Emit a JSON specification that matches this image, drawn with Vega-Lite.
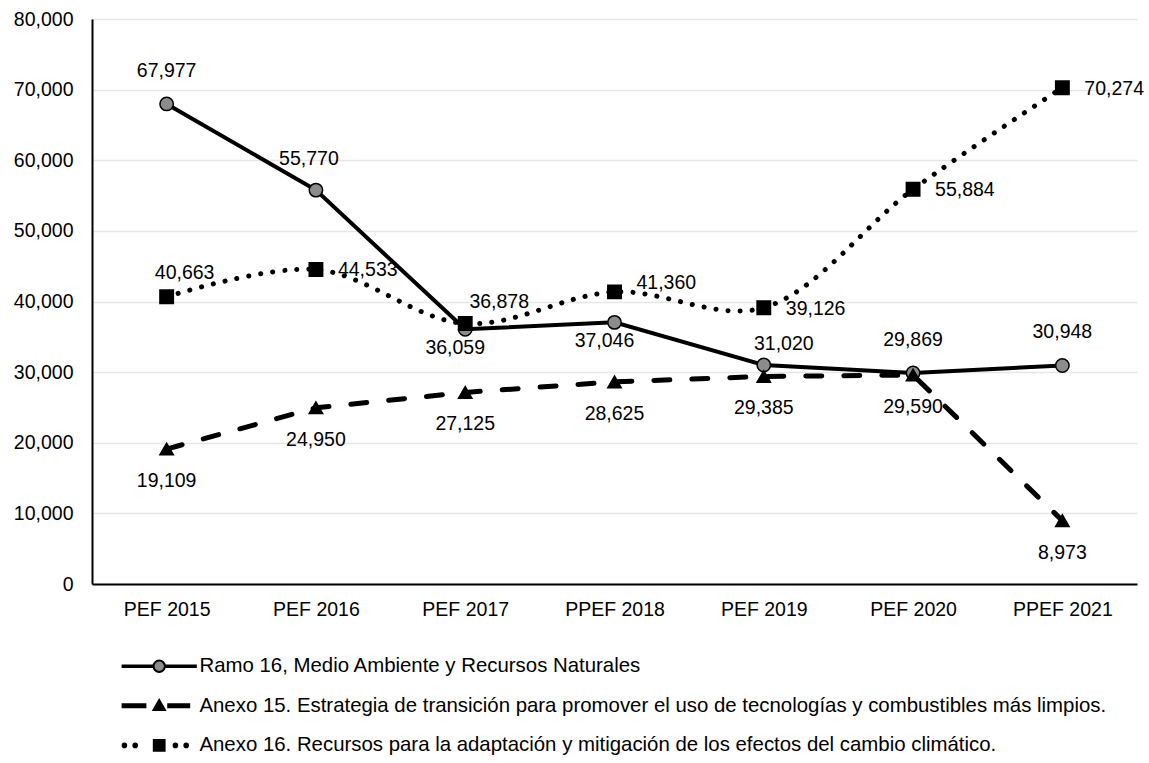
{
  "$schema": "https://vega.github.io/schema/vega-lite/v6.json",
  "width": 1045,
  "height": 565,
  "autosize": {"type": "none"},
  "padding": {"left": 92, "top": 19, "right": 12, "bottom": 179},
  "background": "white",
  "config": {
    "font": "Liberation Sans",
    "view": {"stroke": null},
    "axis": {"labelFont": "Liberation Sans", "labelColor": "#000", "labelFontSize": 19.5, "title": null, "ticks": false, "domainColor": "#000", "domainWidth": 2},
    "legend": {"orient": "none", "legendX": 57, "legendY": 637, "title": null, "direction": "vertical",
      "symbolSize": 144, "labelFontSize": 20.4, "labelFont": "Liberation Sans", "labelColor": "#000",
      "labelOffset": 30, "labelLimit": 2000, "rowPadding": 18.6, "padding": 0, "symbolStrokeWidth": 2, "symbolOpacity": 1}
  },
  "data": {
    "values": [
      {"year": "PEF 2015", "series": "Ramo 16, Medio Ambiente y Recursos Naturales", "value": 67977},
      {"year": "PEF 2016", "series": "Ramo 16, Medio Ambiente y Recursos Naturales", "value": 55770},
      {"year": "PEF 2017", "series": "Ramo 16, Medio Ambiente y Recursos Naturales", "value": 36059},
      {"year": "PPEF 2018", "series": "Ramo 16, Medio Ambiente y Recursos Naturales", "value": 37046},
      {"year": "PEF 2019", "series": "Ramo 16, Medio Ambiente y Recursos Naturales", "value": 31020},
      {"year": "PEF 2020", "series": "Ramo 16, Medio Ambiente y Recursos Naturales", "value": 29869},
      {"year": "PPEF 2021", "series": "Ramo 16, Medio Ambiente y Recursos Naturales", "value": 30948},
      {"year": "PEF 2015", "series": "Anexo 15. Estrategia de transición para promover el uso de tecnologías y combustibles más limpios.", "value": 19109},
      {"year": "PEF 2016", "series": "Anexo 15. Estrategia de transición para promover el uso de tecnologías y combustibles más limpios.", "value": 24950},
      {"year": "PEF 2017", "series": "Anexo 15. Estrategia de transición para promover el uso de tecnologías y combustibles más limpios.", "value": 27125},
      {"year": "PPEF 2018", "series": "Anexo 15. Estrategia de transición para promover el uso de tecnologías y combustibles más limpios.", "value": 28625},
      {"year": "PEF 2019", "series": "Anexo 15. Estrategia de transición para promover el uso de tecnologías y combustibles más limpios.", "value": 29385},
      {"year": "PEF 2020", "series": "Anexo 15. Estrategia de transición para promover el uso de tecnologías y combustibles más limpios.", "value": 29590},
      {"year": "PPEF 2021", "series": "Anexo 15. Estrategia de transición para promover el uso de tecnologías y combustibles más limpios.", "value": 8973},
      {"year": "PEF 2015", "series": "Anexo 16. Recursos para la adaptación y mitigación de los efectos del cambio climático.", "value": 40663},
      {"year": "PEF 2016", "series": "Anexo 16. Recursos para la adaptación y mitigación de los efectos del cambio climático.", "value": 44533},
      {"year": "PEF 2017", "series": "Anexo 16. Recursos para la adaptación y mitigación de los efectos del cambio climático.", "value": 36878},
      {"year": "PPEF 2018", "series": "Anexo 16. Recursos para la adaptación y mitigación de los efectos del cambio climático.", "value": 41360},
      {"year": "PEF 2019", "series": "Anexo 16. Recursos para la adaptación y mitigación de los efectos del cambio climático.", "value": 39126},
      {"year": "PEF 2020", "series": "Anexo 16. Recursos para la adaptación y mitigación de los efectos del cambio climático.", "value": 55884},
      {"year": "PPEF 2021", "series": "Anexo 16. Recursos para la adaptación y mitigación de los efectos del cambio climático.", "value": 70274}
    ]
  },
  "encoding": {
    "x": {"field": "year", "type": "nominal", "sort": null, "scale": {"type": "point", "padding": 0.5},
      "axis": {"labelAngle": 0, "labelPadding": 16, "grid": false}},
    "y": {"field": "value", "type": "quantitative", "scale": {"domain": [0, 80000], "nice": false},
      "axis": {"values": [0, 10000, 20000, 30000, 40000, 50000, 60000, 70000, 80000], "format": ",d", "labelPadding": 19, "grid": true, "gridColor": "#e6e6e6", "gridWidth": 1.5}}
  },
  "layer": [
    {"transform": [{"filter": "test(/^Anexo 15/, datum.series)"}],
     "mark": {"type": "line", "color": "#000", "strokeWidth": 5, "strokeDash": [16, 22], "strokeCap": "round"}},
    {"transform": [{"filter": "test(/^Anexo 16/, datum.series)"}],
     "mark": {"type": "line", "color": "#000", "strokeWidth": 5, "strokeDash": [0.1, 12], "strokeCap": "round", "interpolate": "catmull-rom"}},
    {"transform": [{"filter": "test(/^Ramo/, datum.series)"}],
     "mark": {"type": "line", "color": "#000", "strokeWidth": 4, "strokeCap": "round"}},
    {"mark": {"type": "point", "filled": true, "size": 180, "stroke": "#000", "strokeWidth": 1.5, "opacity": 1},
     "encoding": {
       "shape": {"field": "series", "type": "nominal",
         "scale": {"domain": ["Ramo 16, Medio Ambiente y Recursos Naturales", "Anexo 15. Estrategia de transición para promover el uso de tecnologías y combustibles más limpios.", "Anexo 16. Recursos para la adaptación y mitigación de los efectos del cambio climático."], "range": ["circle", "triangle-up", "square"]}, "legend": null},
       "fill": {"field": "series", "type": "nominal",
         "scale": {"domain": ["Ramo 16, Medio Ambiente y Recursos Naturales", "Anexo 15. Estrategia de transición para promover el uso de tecnologías y combustibles más limpios.", "Anexo 16. Recursos para la adaptación y mitigación de los efectos del cambio climático."], "range": ["#8c8c8c", "#000", "#000"]}, "legend": null}
     }},
    {"transform": [{"filter": "test(/^Ramo/, datum.series) && (datum.year == 'PEF 2015' || datum.year == 'PEF 2020' || datum.year == 'PPEF 2021')"}],
     "mark": {"type": "text", "fontSize": 19.5, "color": "#000", "dy": -33},
     "encoding": {"text": {"field": "value", "type": "quantitative", "format": ",d"}}},
    {"transform": [{"filter": "test(/^Ramo/, datum.series) && datum.year == 'PEF 2016'"}],
     "mark": {"type": "text", "fontSize": 19.5, "color": "#000", "dy": -31, "dx": -7},
     "encoding": {"text": {"field": "value", "type": "quantitative", "format": ",d"}}},
    {"transform": [{"filter": "test(/^Ramo/, datum.series) && datum.year == 'PEF 2019'"}],
     "mark": {"type": "text", "fontSize": 19.5, "color": "#000", "dy": -21, "dx": 20},
     "encoding": {"text": {"field": "value", "type": "quantitative", "format": ",d"}}},
    {"transform": [{"filter": "test(/^Ramo/, datum.series) && (datum.year == 'PEF 2017' || datum.year == 'PPEF 2018')"}],
     "mark": {"type": "text", "fontSize": 19.5, "color": "#000", "dy": 19, "dx": -10},
     "encoding": {"text": {"field": "value", "type": "quantitative", "format": ",d"}}},
    {"transform": [{"filter": "test(/^Anexo 15/, datum.series)"}],
     "mark": {"type": "text", "fontSize": 19.5, "color": "#000", "dy": 32},
     "encoding": {"text": {"field": "value", "type": "quantitative", "format": ",d"}}},
    {"transform": [{"filter": "test(/^Anexo 16/, datum.series) && (datum.year == 'PEF 2016' || datum.year == 'PEF 2019' || datum.year == 'PEF 2020' || datum.year == 'PPEF 2021')"}],
     "mark": {"type": "text", "fontSize": 19.5, "color": "#000", "align": "left", "dx": 22, "dy": 1},
     "encoding": {"text": {"field": "value", "type": "quantitative", "format": ",d"}}},
    {"transform": [{"filter": "test(/^Anexo 16/, datum.series) && datum.year == 'PPEF 2018'"}],
     "mark": {"type": "text", "fontSize": 19.5, "color": "#000", "align": "left", "dx": 22, "dy": -9},
     "encoding": {"text": {"field": "value", "type": "quantitative", "format": ",d"}}},
    {"transform": [{"filter": "test(/^Anexo 16/, datum.series) && datum.year == 'PEF 2015'"}],
     "mark": {"type": "text", "fontSize": 19.5, "color": "#000", "dx": 18, "dy": -24},
     "encoding": {"text": {"field": "value", "type": "quantitative", "format": ",d"}}},
    {"transform": [{"filter": "test(/^Anexo 16/, datum.series) && datum.year == 'PEF 2017'"}],
     "mark": {"type": "text", "fontSize": 19.5, "color": "#000", "dx": 34, "dy": -22},
     "encoding": {"text": {"field": "value", "type": "quantitative", "format": ",d"}}},
    {"transform": [{"filter": "datum.value < 0"}],
     "mark": {"type": "point", "filled": true, "opacity": 1, "strokeWidth": 2},
     "encoding": {
       "fill": {"field": "series", "type": "nominal",
         "scale": {"domain": ["Ramo 16, Medio Ambiente y Recursos Naturales", "Anexo 15. Estrategia de transición para promover el uso de tecnologías y combustibles más limpios.", "Anexo 16. Recursos para la adaptación y mitigación de los efectos del cambio climático."], "range": ["#8c8c8c", "#000", "#000"]}},
       "stroke": {"field": "series", "type": "nominal",
         "scale": {"domain": ["Ramo 16, Medio Ambiente y Recursos Naturales", "Anexo 15. Estrategia de transición para promover el uso de tecnologías y combustibles más limpios.", "Anexo 16. Recursos para la adaptación y mitigación de los efectos del cambio climático."], "range": ["#000", "#000", "#000"]}},
       "shape": {"field": "series", "type": "nominal",
         "scale": {"domain": ["Ramo 16, Medio Ambiente y Recursos Naturales", "Anexo 15. Estrategia de transición para promover el uso de tecnologías y combustibles más limpios.", "Anexo 16. Recursos para la adaptación y mitigación de los efectos del cambio climático."],
           "range": [
             "M-6.1,-0.12H-1V0.12H-6.1Z M1,-0.12H6.1V0.12H1Z M-0.95,0A0.95,0.95 0 1,0 0.95,0A0.95,0.95 0 1,0 -0.95,0Z",
             "M-6.1,-0.25H-2.3V0.25H-6.1Z M-0.95,0.7L0,-0.95L0.95,0.7Z M1.5,-0.25H5V0.25H1.5Z",
             "M-6.1,0A0.3,0.3 0 1,0 -5.5,0A0.3,0.3 0 1,0 -6.1,0Z M-4.3,0A0.3,0.3 0 1,0 -3.7,0A0.3,0.3 0 1,0 -4.3,0Z M-0.9,-0.9H0.9V0.9H-0.9Z M2.4,0A0.3,0.3 0 1,0 3,0A0.3,0.3 0 1,0 2.4,0Z M4.2,0A0.3,0.3 0 1,0 4.8,0A0.3,0.3 0 1,0 4.2,0Z"
           ]}}
     }}
  ],
  "resolve": {"scale": {"shape": "independent", "fill": "independent", "stroke": "independent"}}
}
